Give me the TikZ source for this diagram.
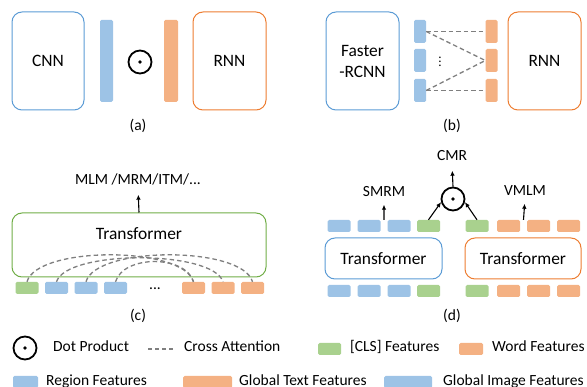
\documentclass[tikz,border=0pt]{standalone}
\usepackage{fontspec}
\setmainfont{Carlito}
\usetikzlibrary{positioning,calc,arrows.meta}

\definecolor{imgblue}{HTML}{5B9BD5}
\definecolor{txtorange}{HTML}{ED7D31}
\definecolor{clsgreen}{HTML}{70AD47}
\definecolor{regionfill}{HTML}{9DC3E6}
\definecolor{wordfill}{HTML}{F4B183}
\definecolor{clsfill}{HTML}{A9D18E}
\definecolor{attgray}{HTML}{7F7F7F}

\begin{document}
\begin{tikzpicture}[x=1pt, y=-1pt,
    net/.style={draw, rounded corners=10pt, line width=1pt, align=center, inner sep=0pt, font=\fontsize{17.4}{21}\selectfont},
    featbar/.style={rounded corners=1.5pt, inner sep=0pt, minimum width=12pt, minimum height=23pt},
    tok/.style={rounded corners=1.5pt, inner sep=0pt, minimum width=23pt, minimum height=12pt},
    lbl/.style={inner sep=0pt, text height=10pt, text depth=3pt, font=\fontsize{15.5}{18}\selectfont},
    dotprod/.style={draw, circle, line width=1.8pt, minimum size=23pt, inner sep=0pt,
        path picture={\fill (path picture bounding box.center) circle (1.9pt);}},
    att/.style={draw=attgray, line width=1.3pt, dash pattern=on 4.5pt off 3pt},
    arr/.style={-{Latex[length=5pt,width=4.5pt]}, line width=1.1pt}]
    \useasboundingbox (0,0) rectangle (587,387);

    % (a)
    \node[net, draw=imgblue, minimum width=72pt, minimum height=98pt] (cnn) at (48,61) {CNN};
    \node[fill=regionfill, rounded corners=1.5pt, inner sep=0pt, minimum width=13pt, minimum height=82pt] (gimg) at (106.5,61) {};
    \node[dotprod] (dpa) at (140,62) {};
    \node[fill=wordfill, rounded corners=1.5pt, inner sep=0pt, minimum width=14pt, minimum height=82pt] (gtxt) at (171,61) {};
    \node[net, draw=txtorange, minimum width=73pt, minimum height=98pt] (rnna) at (229.5,61) {RNN};
    \node[lbl] (capa) at (138,127) {(a)};

    % (b)
    \node[net, draw=imgblue, minimum width=73pt, minimum height=98pt] (frcnn) at (362.5,61) {Faster\\-RCNN};
    \foreach \n/\y in {1/31.5, 2/60.5, 3/90.5} {
        \node[featbar, fill=regionfill] (r\n) at (420,\y) {};
        \node[featbar, fill=wordfill] (w\n) at (491.5,\y) {};
    }
    \node[inner sep=0pt, font=\fontsize{13}{15}\selectfont] (vd) at (440,59) {$\vdots$};
    \draw[att] (r1.east) -- (w1.west);
    \draw[att] (r1.east) -- (w2.west);
    \draw[att] (r3.east) -- (w2.west);
    \draw[att] (r3.east) -- (w3.west);
    \node[net, draw=txtorange, minimum width=73pt, minimum height=98pt] (rnnb) at (544.5,61) {RNN};
    \node[lbl] (capb) at (452,127) {(b)};

    % (c)
    \node[net, draw=clsgreen, minimum width=254pt, minimum height=64pt, text height=12pt, text depth=22pt] (trc) at (139,245) {Transformer};
    \node[lbl] (mlm) at (138,181) {MLM /MRM/ITM/...};
    \draw[arr, shorten >=7pt] (trc.north) -- (mlm.south);
    \node[tok, fill=clsfill] (c0) at (27,288) {};
    \foreach \i in {1,2,3}
        \node[tok, fill=regionfill] (c\i) at ({27+29.5*\i},288) {};
    \node[lbl] (cdots) at (155,286.5) {...};
    \foreach \i in {4,5,6}
        \node[tok, fill=wordfill] (c\i) at ({75.5+29.5*\i},288) {};
    \draw[att] (c0.north) .. controls +(10,-36) and +(-10,-36) .. (c4.north);
    \draw[att] (c1.north) .. controls +(10,-32) and +(-10,-32) .. (c5.north);
    \draw[att] (c2.north) .. controls +(10,-36) and +(-10,-36) .. (c6.north);
    \draw[att] (c3.north) .. controls +(8,-27) and +(-8,-27) .. (c4.north);
    \node[lbl] (capc) at (138,317) {(c)};

    % (d)
    \foreach \i/\x in {1/339, 2/369, 3/399} {
        \node[tok, fill=regionfill] (u\i) at (\x,226) {};
        \node[tok, fill=regionfill] (l\i) at (\x,291) {};
    }
    \node[tok, fill=clsfill] (u4) at (428.5,226) {};
    \node[tok, fill=clsfill] (l4) at (428.5,291) {};
    \node[tok, fill=clsfill] (u5) at (477,226) {};
    \node[tok, fill=clsfill] (l5) at (477,291) {};
    \foreach \i/\x in {6/508.5, 7/538.5, 8/568.5} {
        \node[tok, fill=wordfill] (u\i) at (\x,226) {};
        \node[tok, fill=wordfill] (l\i) at (\x,291) {};
    }
    \node[net, draw=imgblue, minimum width=117pt, minimum height=41pt] (trl) at (383.5,258.5) {Transformer};
    \node[net, draw=txtorange, minimum width=116pt, minimum height=41pt] (trr) at (523,258.5) {Transformer};
    \node[dotprod] (dpd) at (453,199) {};
    \node[lbl] (cmr) at (452,157) {CMR};
    \draw[arr, shorten >=7pt] (dpd.north) -- (cmr.south);
    \draw[arr] (u4.north) -- (dpd.195);
    \draw[arr] (u5.north) -- (dpd.-15);
    \node[lbl] (smrm) at (384,193) {SMRM};
    \draw[arr, shorten >=5pt] ($(u2.north east)!0.5!(u3.north west)$) -- (smrm.south);
    \node[lbl] (vmlm) at (525,192) {VMLM};
    \draw[arr, shorten >=5pt] ($(u6.north east)!0.5!(u7.north west)$) -- (vmlm.south);
    \node[lbl] (capd) at (452,317) {(d)};

    % legend
    \node[dotprod] (dpk) at (25,348) {};
    \node[lbl, anchor=west] (kdp) at (53,348) {Dot Product};
    \coordinate (ka) at (148,349);
    \coordinate (kb) at (173,349);
    \draw[att, dash pattern=on 4pt off 3pt] (ka) -- (kb);
    \node[lbl, anchor=west] (kca) at (184,348) {Cross Attention};
    \node[tok, fill=clsfill] (kcls) at (329.5,349) {};
    \node[lbl, anchor=west] (kclst) at (350,348) {[CLS] Features};
    \node[tok, fill=wordfill, minimum width=24pt] (kword) at (471,349) {};
    \node[lbl, anchor=west] (kwordt) at (492,348) {Word Features};
    \node[tok, fill=regionfill, minimum width=25pt] (kreg) at (25.5,382) {};
    \node[lbl, anchor=west] (kregt) at (46,382) {Region Features};
    \node[tok, fill=wordfill, minimum width=49pt] (kgtxt) at (207.5,382) {};
    \node[lbl, anchor=west] (kgtxtt) at (239,382) {Global Text Features};
    \node[tok, fill=regionfill, minimum width=48pt] (kgimg) at (408,382) {};
    \node[lbl, anchor=west] (kgimgt) at (443,382) {Global Image Features};
\end{tikzpicture}
\end{document}
